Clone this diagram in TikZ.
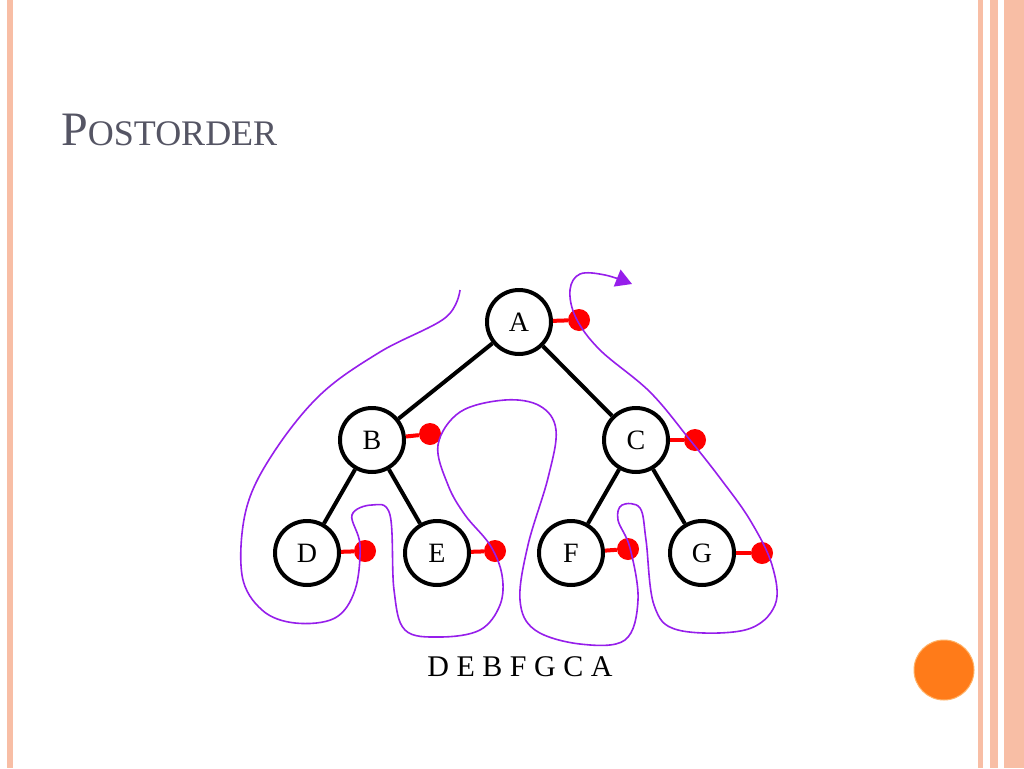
\documentclass[tikz,border=0pt]{standalone}
\usepackage{fontspec}
\setmainfont{Liberation Serif}
\usetikzlibrary{arrows.meta}
\definecolor{pv}{RGB}{150,30,235}
\definecolor{tg}{RGB}{85,85,100}
\definecolor{sal}{RGB}{248,190,165}
\begin{document}
\begin{tikzpicture}[x=1pt,y=-1pt,
  tn/.style={circle,draw=black,line width=4pt,minimum size=64pt,inner sep=0pt,font=\fontsize{28}{28}\selectfont,fill=white},
  edge/.style={line width=4pt},
  dot/.style={circle,fill=red,minimum size=22pt,inner sep=0pt},
  stub/.style={red,line width=4pt},
  path/.style={pv,line width=1.6pt}]
\useasboundingbox (0,0) rectangle (1024,768);
\fill[white] (0,0) rectangle (1024,768);
% decorations
\fill[sal] (7,0) rectangle (13,768);
\fill[sal] (978,0) rectangle (983,768);
\fill[sal] (990,0) rectangle (998,768);
\fill[sal] (1004,0) rectangle (1024,768);
\node[circle,fill=orange!85!red!90,minimum size=60pt,draw=orange!60!white,line width=1pt] (dec) at (944,670) {};
\node[anchor=base west,text=tg,inner sep=0pt] (title) at (61,145) {\fontsize{48}{48}\selectfont P\fontsize{36}{36}\selectfont OSTORDER};
% tree
\node[tn] (A) at (519,322) {A};
\node[tn] (B) at (372,440) {B};
\node[tn] (C) at (636,440) {C};
\node[tn] (D) at (307,553) {D};
\node[tn] (E) at (437,553) {E};
\node[tn] (F) at (571,553) {F};
\node[tn] (G) at (702,553) {G};
\draw[edge] (A) -- (B); \draw[edge] (A) -- (C);
\draw[edge] (B) -- (D); \draw[edge] (B) -- (E);
\draw[edge] (C) -- (F); \draw[edge] (C) -- (G);
\foreach \n/\x/\y in {A/579/320,B/430/434,C/695/440,D/365/551,E/495/551,F/628/549,G/762/553}{
  \node[dot] (d\n) at (\x,\y) {};
  \draw[stub] (\n) -- (d\n);
}
% traversal path
\draw[path,-{Triangle[length=16pt,width=18pt]}] plot[smooth,tension=0.6] coordinates {
(460,290) (445,318) (380,352) (320,395) (272,455) (246,510) (242,575) (262,610) (295,623) (335,618) (355,590) (360,545) (352,515) (372,505) (390,515) (394,590) (405,630) (440,637) (480,630) (500,605) (502,575) (490,545) (465,515) (448,485) (438,445) (460,412) (505,400) (540,406) (556,430) (548,478) (528,545) (520,600) (535,630) (580,644) (625,640) (638,600) (630,548) (618,520) (622,505) (640,508) (646,540) (654,605) (678,630) (745,630) (775,605) (772,565) (750,520) (720,478) (690,440) (650,392) (600,350) (576,318) (570,290) (580,274) (605,275) (632,284)};
\node[font=\fontsize{30}{30}\selectfont] (res) at (520,667) {D E B F G C A};
\end{tikzpicture}
\end{document}
